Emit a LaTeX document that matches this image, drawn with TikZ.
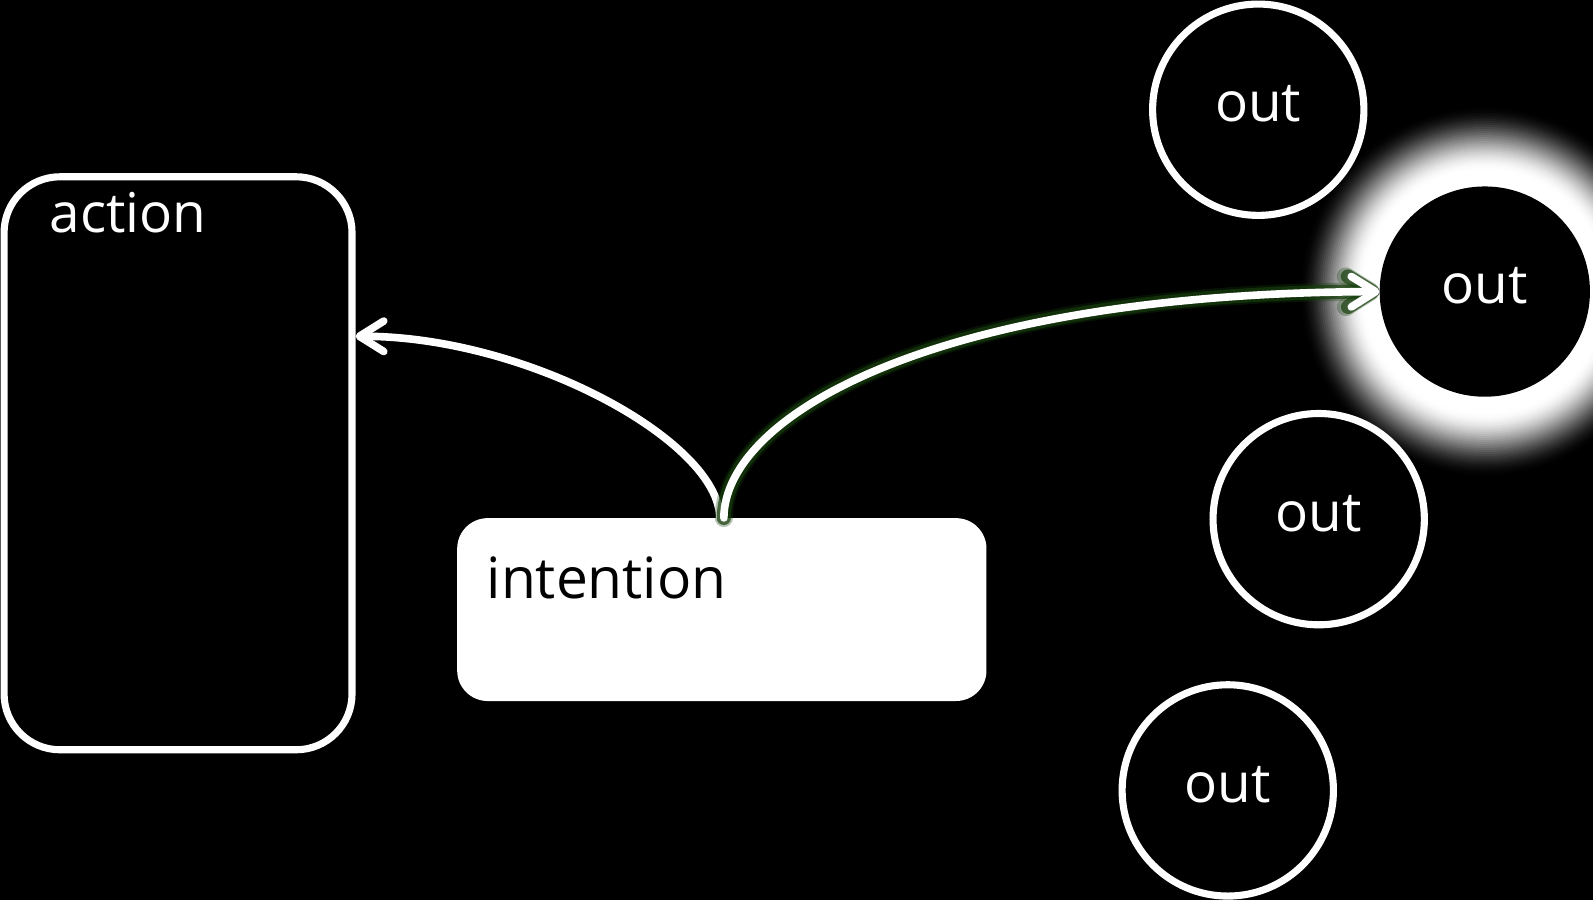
\documentclass[tikz,border=0pt]{standalone}
\usepackage{fontspec}
\setmainfont{Open Sans}
\usetikzlibrary{arrows.meta}
\begin{document}
\begin{tikzpicture}[x=1pt,y=-1pt,
  lblfont/.style={font=\fontsize{54pt}{60pt}\selectfont},
  outc/.style={circle, draw=white, line width=7pt, fill=black, minimum size=208pt,
    inner sep=0pt, text=white, lblfont, text height=24pt, text depth=0pt},
  glowc/.style={circle, draw=none, fill=black, minimum size=207pt,
    inner sep=0pt, text=white, lblfont, text height=24pt, text depth=0pt},
  actbox/.style={rectangle, draw=white, line width=7pt, fill=black, rounded corners=55pt,
    minimum width=342.5pt, minimum height=564pt, inner sep=0pt},
  intbox/.style={rectangle, draw=none, fill=white, rounded corners=30pt,
    minimum width=521pt, minimum height=180pt, inner sep=0pt},
  lbl/.style={anchor=base west, inner sep=0pt, outer sep=0pt},
  tipbarb/.style={-{Straight Barb[length=24pt, width=30pt, round]}},
  arr/.style={draw=white, line width=7.5pt, line cap=round, tipbarb},
  halo/.style={draw={rgb,255:red,22;green,62;blue,12}, line cap=round, line join=round, tipbarb},
]
\fill[black] (0,0) rectangle (1568,886);
\useasboundingbox (0,0) rectangle (1568,886);

% glow behind the highlighted circle
\coordinate (gc) at (1461.5,287);
\foreach \r in {184,182,...,104}{
  \pgfmathsetmacro\myt{min(1,max(0,(184-\r)/64))}
  \pgfmathsetmacro\myp{100*(3*\myt*\myt-2*\myt*\myt*\myt)}
  \fill[white!\myp!black] (gc) circle[radius=\r pt];
}

% nodes
\node[actbox] (action) at (175.25,456) {};
\node[lbl, text=white, lblfont] (actlbl) at (49,229) {action};

\node[intbox] (int) at (710.5,600) {};
\node[lbl, text=black, font=\fontsize{56pt}{64pt}\selectfont] (intlbl) at (479,589) {intention};

\node[outc] (o1) at (1238.5,108) {out};
\node[glowc] (o2) at (gc) {out};
\node[outc] (o3) at (1298,511) {out};
\node[outc] (o4) at (1208.5,778) {out};

% connectors
\draw[arr] ([xshift=-2pt]int.north) .. controls (708,435) and (520,331) .. ([yshift=125pt]action.east);

\draw[halo, line width=18pt, draw opacity=0.3] ([xshift=2pt]int.north) .. controls (713,410) and (917,289) .. (o2.west);
\draw[halo, line width=14pt, draw opacity=0.7] ([xshift=2pt]int.north) .. controls (713,410) and (917,289) .. (o2.west);
\draw[arr] ([xshift=2pt]int.north) .. controls (713,410) and (917,289) .. (o2.west);
\end{tikzpicture}
\end{document}
